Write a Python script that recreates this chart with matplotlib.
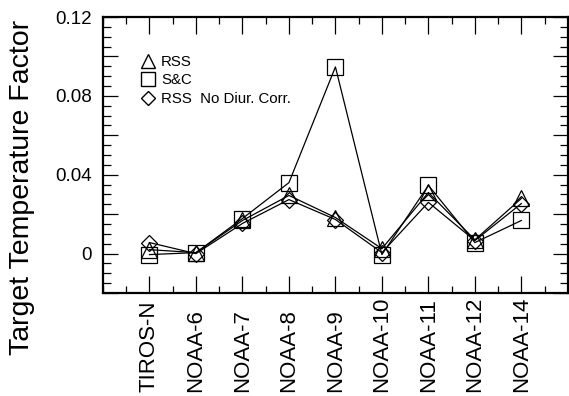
import matplotlib
matplotlib.use("Agg")
import matplotlib.pyplot as plt
from matplotlib.lines import Line2D
from matplotlib.ticker import MultipleLocator, FuncFormatter, FixedLocator
import matplotlib.transforms as mtransforms

plt.rcParams['font.family'] = ['Liberation Sans', 'DejaVu Sans']

satellites = ["TIROS-N", "NOAA-6", "NOAA-7", "NOAA-8", "NOAA-9",
              "NOAA-10", "NOAA-11", "NOAA-12", "NOAA-14"]
rss = [0.002, 0.0005, 0.0168, 0.0295, 0.0183, 0.0025, 0.031, 0.007, 0.028]
snc = [-0.0005, 0.0005, 0.0178, 0.036, 0.0947, -0.0005, 0.0346, 0.0056, 0.0168]
rss_nodiur = [0.0056, 0.0, 0.0153, 0.0274, 0.0173, 0.0005, 0.026, 0.0066, 0.0254]

fig = plt.figure(figsize=(5.69, 3.96), dpi=100)
ax = fig.add_axes([0.181, 0.26, 0.817, 0.697])

x = list(range(len(satellites)))
style = dict(color="black", lw=0.9, mfc="none", mec="black", mew=0.9)
ax.plot(x, rss, marker="^", ms=11, **style)
ax.plot(x, snc, marker="s", ms=11, **style)
ax.plot(x, rss_nodiur, marker="D", ms=8, **style)

ax.set_xlim(-1, 9)
ax.set_ylim(-0.02, 0.12)

ax.yaxis.set_major_locator(MultipleLocator(0.02))
ax.yaxis.set_minor_locator(MultipleLocator(0.005))
ax.yaxis.set_major_formatter(FuncFormatter(
    lambda v, p: ("0" if abs(v) < 1e-9 else f"{v:.2f}")
    if abs(round(v / 0.04) * 0.04 - v) < 1e-9 else ""))
ax.xaxis.set_major_locator(FixedLocator(x))
ax.xaxis.set_minor_locator(MultipleLocator(0.5))
ax.set_xticklabels([])

ax.tick_params(which="both", direction="in", top=True, right=True, width=0.9)
ax.tick_params(axis="y", which="major", length=11, labelsize=13.5, pad=8)
ax.tick_params(axis="y", which="minor", length=6)
ax.tick_params(axis="x", which="major", length=12)
ax.tick_params(axis="x", which="minor", length=5)
for s in ax.spines.values():
    s.set_linewidth(1.6)

trans = mtransforms.blended_transform_factory(ax.transData, fig.transFigure)
for xi, name in zip(x, satellites):
    ax.text(xi, 4 / 396, name, transform=trans, rotation=90,
            ha="center", va="bottom", fontsize=16)

fig.text(22 / 569, 1 - 187 / 396, "Target Temperature Factor", rotation=90,
         ha="center", va="center", fontsize=20.5)

handles = [Line2D([], [], ls="none", marker="^", ms=10.5, mfc="none", mec="black"),
           Line2D([], [], ls="none", marker="s", ms=10.5, mfc="none", mec="black"),
           Line2D([], [], ls="none", marker="D", ms=7.5, mfc="none", mec="black")]
ax.legend(handles, ["RSS", "S&C", "RSS  No Diur. Corr."], loc="upper left",
          bbox_to_anchor=(0.07, 0.885), frameon=False, fontsize=10.8,
          handlelength=0.8, handletextpad=0.5, labelspacing=0.3,
          borderaxespad=0)

fig.savefig("out.png", dpi=100)
